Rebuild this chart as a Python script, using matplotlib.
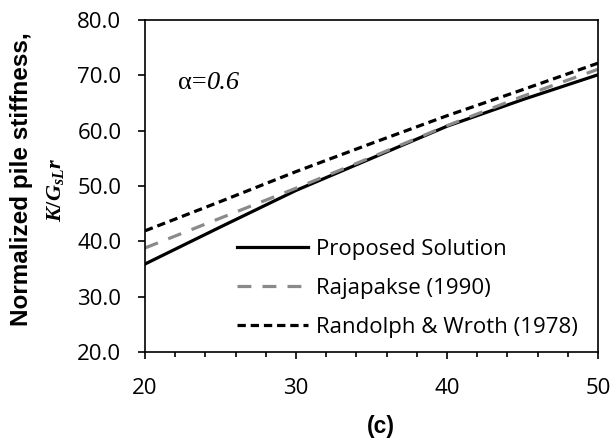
import matplotlib
matplotlib.use("Agg")
import matplotlib.pyplot as plt
from matplotlib.ticker import MultipleLocator

plt.rcParams['lines.scale_dashes'] = False
plt.rcParams['mathtext.fontset'] = 'custom'
plt.rcParams['mathtext.it'] = 'Liberation Serif:italic:bold'
plt.rcParams['mathtext.rm'] = 'Liberation Serif:bold'
plt.rcParams['mathtext.bf'] = 'Liberation Serif:italic:bold'

x = [20, 25, 30, 35, 40, 45, 50]
proposed = [35.9, 42.6, 49.2, 55.0, 60.8, 65.6, 70.1]
rajapakse = [38.8, 44.2, 49.6, 55.2, 60.9, 66.2, 71.1]
randolph = [41.9, 47.2, 52.6, 57.7, 62.7, 67.4, 72.2]
labels = ["Proposed Solution", "Rajapakse (1990)", "Randolph & Wroth (1978)"]
yticks = [20.0, 30.0, 40.0, 50.0, 60.0, 70.0, 80.0]
xticks = [20, 30, 40, 50]

W, H = 616, 441
fig = plt.figure(figsize=(6.16, 4.41), dpi=100)
ax = fig.add_axes([145 / W, 1 - 352 / H, (598 - 145) / W, (352 - 20) / H])

tick_font = "Open Sans"
fs = 16
ax.plot(x, proposed, color="black", lw=2.3, label=labels[0])
ax.plot(x, rajapakse, color="#8a8a8a", lw=2.3, dashes=(10, 8), label=labels[1])
ax.plot(x, randolph, color="black", lw=2.3, dashes=(6, 3.5), label=labels[2])

ax.set_xlim(20, 50)
ax.set_ylim(20, 80)
ax.set_xticks(xticks)
ax.set_yticks(yticks)
ax.set_yticklabels([f"{v:.1f}" for v in yticks], fontfamily=tick_font, fontsize=fs)
ax.set_xticklabels([str(v) for v in xticks], fontfamily=tick_font, fontsize=fs)
ax.xaxis.set_minor_locator(MultipleLocator(2))
ax.tick_params(axis="both", which="major", direction="out", length=5, width=1.2, colors="black")
ax.tick_params(axis="x", which="minor", direction="out", length=3.5, width=1.2)
ax.tick_params(axis="x", which="major", pad=13.5)
ax.tick_params(axis="y", which="major", pad=12)
for s in ax.spines.values():
    s.set_linewidth(1.2)

leg = ax.legend(loc="upper left", bbox_to_anchor=((237 - 145) / 453, (352 - 239) / 332),
                frameon=False, prop={"family": tick_font, "size": 16}, handlelength=3.2,
                handletextpad=0.35, labelspacing=0.8, borderaxespad=0, borderpad=0)

t1 = ax.text(178, 83, "α=", fontfamily="Liberation Serif",
             fontsize=19, va="center", ha="left")
t1.set_transform(matplotlib.transforms.Affine2D().scale(1, -1).translate(0, H))
fig.canvas.draw()
bb = t1.get_window_extent()
ax.annotate("0.6", xy=(bb.x1, H - 83), xycoords="figure pixels", fontfamily="Liberation Serif",
            fontsize=19, style="italic", va="center", ha="left")

fig.text(22 / W, 1 - 179 / H, "Normalized pile stiffness,", rotation=90, ha="center", va="center",
         fontfamily="Liberation Sans", fontweight="bold", fontsize=17.5)
fig.text(55 / W, 1 - 190 / H, r"$K/G_{sL}r$", rotation=90, ha="center", va="center",
         fontsize=16)
fig.text(381 / W, 1 - 426 / H, "(c)", ha="center", va="center", fontfamily="Liberation Sans",
         fontweight="bold", fontsize=16.5)

fig.savefig("out.png", dpi=100)
